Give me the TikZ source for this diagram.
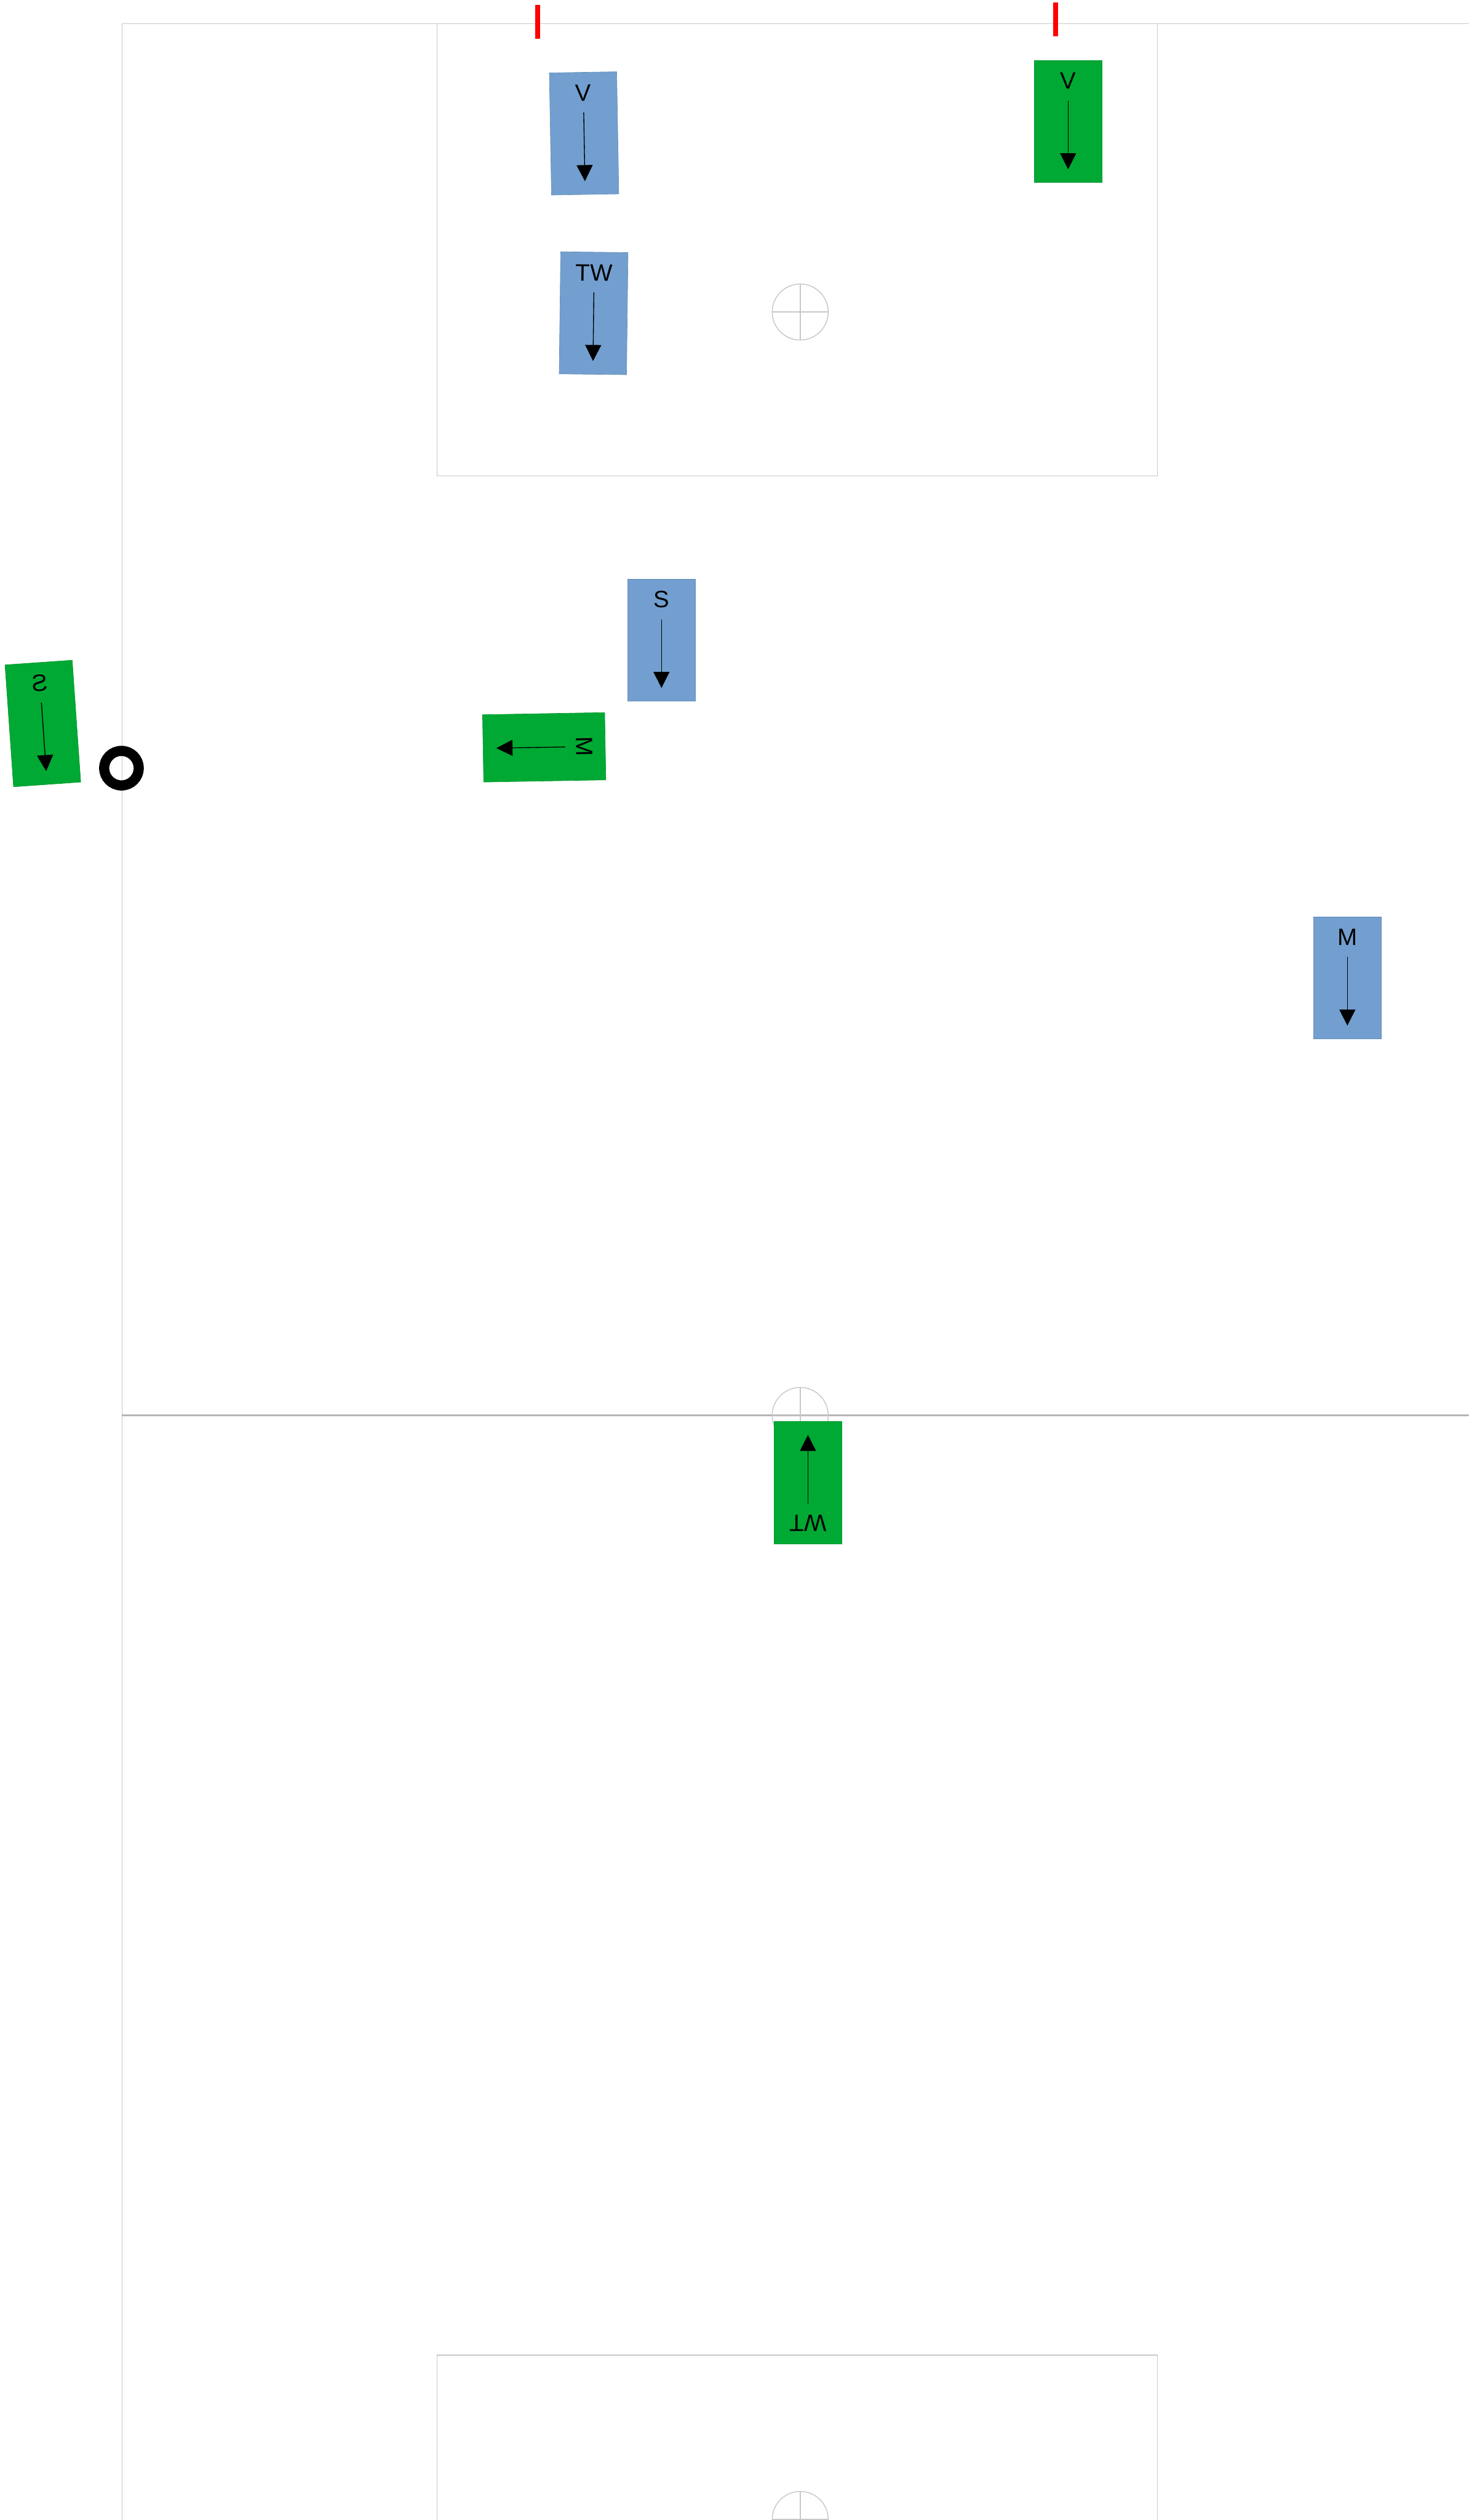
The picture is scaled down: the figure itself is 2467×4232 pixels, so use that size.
\documentclass[tikz,border=0pt]{standalone}
\usepackage{fontspec}
\setmainfont{Liberation Sans}
\usetikzlibrary{arrows.meta,calc}

\definecolor{blau}{RGB}{114,159,207}
\definecolor{gruen}{RGB}{0,169,51}
\definecolor{linie}{RGB}{200,200,200}

\tikzset{
    feld/.style={draw=linie, line width=0.015cm},
    mittellinie/.style={draw=linie!90!black, line width=0.03cm},
    karte/.style={rectangle, inner sep=0pt, minimum width=1.13cm, minimum height=2.05cm, line width=0.2pt},
    pfeil/.style={-{Triangle[length=0.27cm,width=0.27cm]}, line width=0.4pt},
    marke/.style={red, line width=0.075cm}
}

\begin{document}
\begin{tikzpicture}[x=0.01cm, y=-0.01cm]
            \useasboundingbox (0,0) rectangle (2467,4232);
            \fill[white] (0,0) rectangle (2467,4232);
            \begin{scope}
            \clip (0,0) rectangle (2467,4232);
            % Spielfeld
            \draw[feld] (205,40) rectangle (2483,4714);
            \draw[feld] (734,40) rectangle (1944,799);
            \draw[feld] (734,3955) rectangle (1944,4714);
            \draw[mittellinie] (205,2377) -- (2483,2377);
            \foreach \y in {524,2377,4231} {
                \draw[feld] (1344,\y) circle (0.47cm);
                \draw[feld] (1297,\y) -- (1391,\y) (1344,{\y-47}) -- (1344,{\y+47});
            }
            \end{scope}
            % Torpfosten
            \draw[marke] (903,8) -- (903,65);
            \draw[marke] (1773,4) -- (1773,61);
            % Ball
            \draw[line width=0.17cm] (204,1290) circle (0.29cm);
            % Spieler
            \foreach \name/\x/\y/\w/\farbe/\txt/\sx in {
                v1/981/224/1/blau/V/1,
                v2/1794/204/0/gruen/V/1,
                tw1/997/526/-0.7/blau/TW/1,
                s1/1111/1075/0/blau/S/1,
                m2/914/1255/-89/gruen/M/1,
                s2/72/1215/4/gruen/S/-1,
                m1/2263/1642/0/blau/M/1,
                tw2/1357/2490/180/gruen/TW/-1} {
                \node[karte, fill=\farbe, draw=\farbe!90!black, rotate=\w] (\name) at (\x,\y) {};
                \node[rotate=\w, xscale=\sx, font=\fontsize{11.3pt}{13pt}\selectfont, inner sep=0pt]
                    at ($(\name.north)!0.17!(\name.south)$) {\txt};
                \draw[pfeil] ($(\name.north)!0.33!(\name.south)$) -- ($(\name.north)!0.89!(\name.south)$);
            }
        \end{tikzpicture}
\end{document}
